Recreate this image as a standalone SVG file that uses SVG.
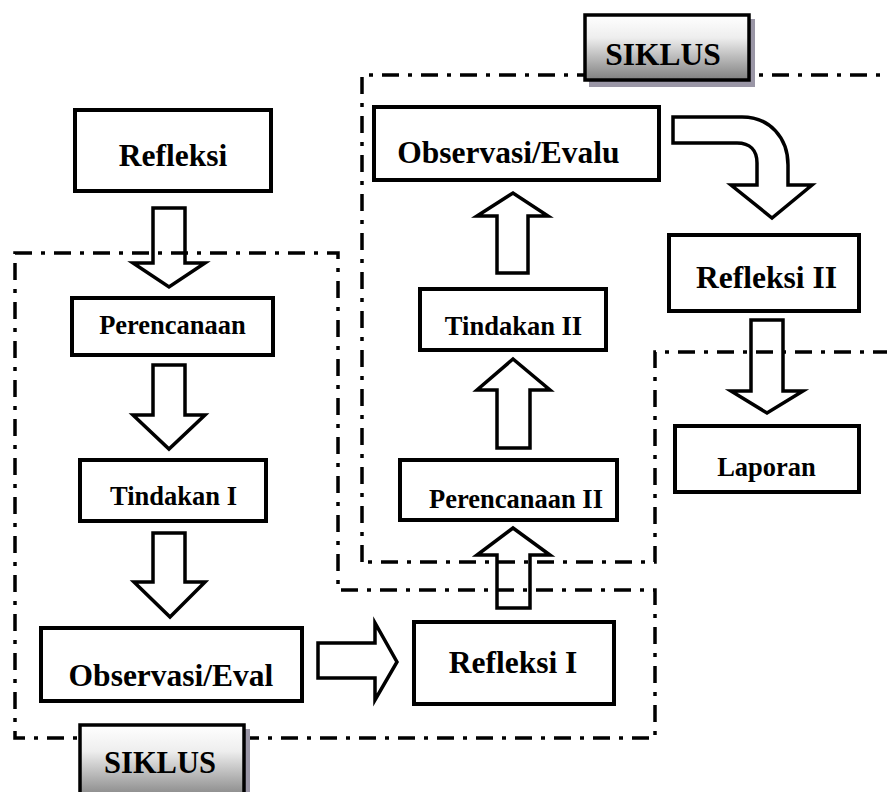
<svg xmlns="http://www.w3.org/2000/svg" width="887" height="792" viewBox="0 0 887 792">
<defs>
<linearGradient id="gr" x1="0" y1="0" x2="0" y2="1">
<stop offset="0" stop-color="#ffffff"/>
<stop offset="0.35" stop-color="#eeeeee"/>
<stop offset="1" stop-color="#7f7f7f"/>
</linearGradient>
</defs>
<style>
.box{fill:#fff;stroke:#000;stroke-width:4}
.arr{fill:#fff;stroke:#000;stroke-width:3.5;stroke-linejoin:miter}
.frame{fill:none;stroke:#000;stroke-width:3.5;stroke-dasharray:17 9 4 9}
.t{font-family:"Liberation Serif","Times New Roman",serif;font-weight:bold;fill:#000;text-anchor:middle}
.big{font-size:31.5px}
.sm{font-size:26.5px}
.sk{fill:url(#gr);stroke:#000;stroke-width:3.5}
.sh{fill:#9a96a6}
</style>
<rect width="887" height="792" fill="#fff"/>

<g id="connectors">
<path class="arr" d="M153,208 L185,208 L185,263 L205,263 L169,287 L133,263 L153,263 Z"/>
<path class="arr" d="M153,365 L185,365 L185,415 L205,415 L169,449 L133,415 L153,415 Z"/>
<path class="arr" d="M153,533 L185,533 L185,582 L205,582 L170,617 L134,582 L153,582 Z"/>
<path class="arr" d="M318,643 L375,643 L375,623 L397,662 L375,700 L375,678 L318,678 Z"/>
<path class="arr" d="M497,608 L530,608 L530,555 L550,555 L513,528 L477,555 L497,555 Z"/>
<path class="arr" d="M497,448 L530,448 L530,390 L550,390 L513,359 L477,390 L497,390 Z"/>
<path class="arr" d="M497,273 L528,273 L528,216 L548,216 L513,193 L477,216 L497,216 Z"/>
<path class="arr" d="M751,320 L783,320 L783,391 L803,391 L767,413 L731,391 L751,391 Z"/>
<path class="arr" d="M673,117 L742,117 C770,117 788,138 788,165 L788,185 L812,185 L772,218 L731,185 L757,185 L757,163 C757,150 750,143 737,143 L673,143 Z"/>
</g>

<g id="frames">
<path class="frame" d="M15,253 L338,253 L338,590 L655,590 L655,738 L15,738 Z"/>
<path class="frame" d="M362,562 L362,75 L890,75 M890,352 L655,352 L655,562 L362,562"/>
</g>

<g id="refleksi"><rect class="box" x="75" y="110" width="196" height="81"/><text class="t big" x="173" y="166">Refleksi</text></g>
<g id="perencanaan"><rect class="box" x="72" y="298" width="201" height="57"/><text class="t sm" x="172.5" y="334">Perencanaan</text></g>
<g id="tindakan1"><rect class="box" x="80" y="460" width="186" height="61"/><text class="t sm" x="173.5" y="505">Tindakan I</text></g>
<g id="observasi1"><rect class="box" x="41" y="628" width="261" height="73"/><text class="t big" x="171" y="686">Observasi/Eval</text></g>
<g id="refleksi1"><rect class="box" x="414" y="622" width="200" height="82"/><text class="t big" x="513" y="673">Refleksi I</text></g>
<g id="perencanaan2"><rect class="box" x="400" y="460" width="217" height="60"/><text class="t sm" x="516" y="508">Perencanaan II</text></g>
<g id="tindakan2"><rect class="box" x="420" y="289" width="186" height="61"/><text class="t sm" x="513.5" y="335">Tindakan II</text></g>
<g id="observasi2"><rect class="box" x="374" y="107" width="285" height="73"/><text class="t big" x="508.5" y="163">Observasi/Evalu</text></g>
<g id="refleksi2"><rect class="box" x="669" y="235" width="190" height="76"/><text class="t big" x="766.5" y="288">Refleksi II</text></g>
<g id="laporan"><rect class="box" x="675" y="426" width="184" height="66"/><text class="t sm" x="766.5" y="476">Laporan</text></g>

<g id="siklus-top"><rect class="sh" x="589" y="19" width="166" height="68"/><rect class="sk" x="585" y="15" width="164" height="65"/><text class="t big" x="663" y="65">SIKLUS</text></g>
<g id="siklus-bottom"><rect class="sh" x="84" y="729" width="166" height="70"/><rect class="sk" x="80" y="725" width="164" height="75"/><text class="t" style="font-size:30.5px" x="160" y="773">SIKLUS</text></g>
</svg>
